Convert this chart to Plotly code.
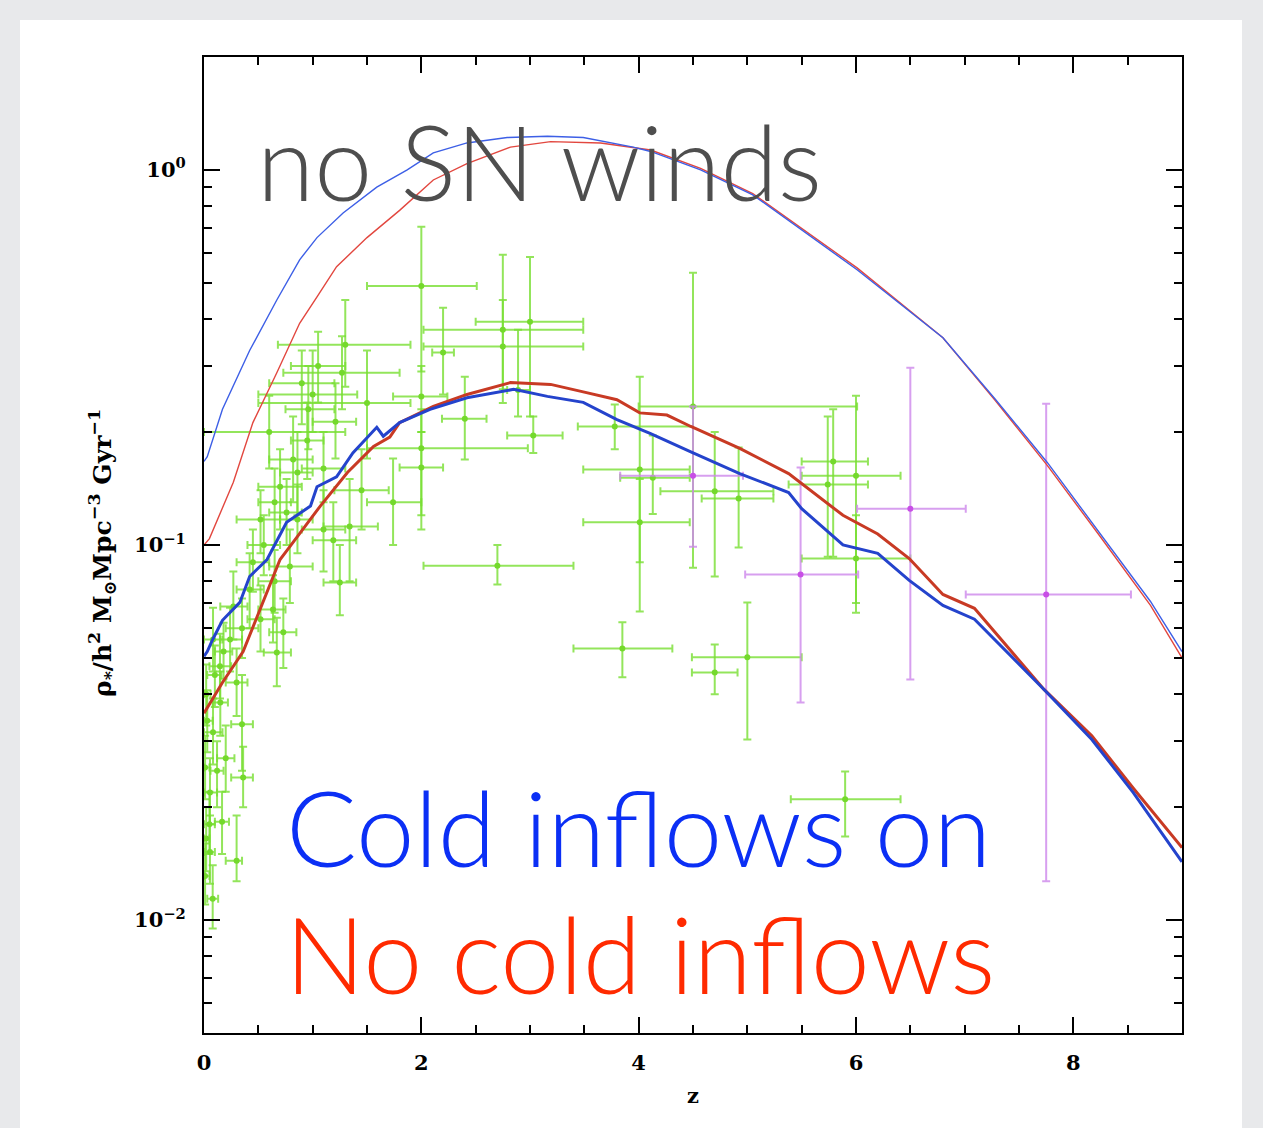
import plotly.graph_objects as go

# ---------------- model curves ----------------
blue_thin_z = [0, 0.03, 0.17, 0.42, 0.67, 0.88, 1.04, 1.28, 1.59, 1.87, 2.11, 2.42, 2.79, 3.16, 3.49, 3.95, 4.11, 4.57, 5.05, 6.01, 6.8, 7.28, 7.76, 8.23, 8.71, 9.0]
blue_thin_v = [0.167, 0.172, 0.23, 0.33, 0.45, 0.576, 0.66, 0.768, 0.90, 1.0, 1.11, 1.18, 1.22, 1.23, 1.22, 1.15, 1.12, 1.0, 0.858, 0.542, 0.357, 0.245, 0.166, 0.109, 0.0707, 0.052]

red_thin_z = [0, 0.05, 0.27, 0.45, 0.67, 0.88, 1.04, 1.22, 1.5, 1.8, 2.11, 2.42, 2.82, 3.19, 3.65, 4.11, 4.57, 5.05, 6.01, 6.8, 7.28, 7.76, 8.23, 8.71, 9.0]
red_thin_v = [0.1, 0.104, 0.147, 0.212, 0.288, 0.39, 0.459, 0.552, 0.66, 0.78, 0.94, 1.04, 1.15, 1.19, 1.18, 1.13, 1.01, 0.865, 0.548, 0.357, 0.243, 0.163, 0.107, 0.069, 0.050]

blue_thick_z = [0, 0.03, 0.08, 0.17, 0.33, 0.42, 0.58, 0.76, 0.98, 1.04, 1.22, 1.37, 1.59, 1.65, 1.8, 2.08, 2.42, 2.85, 3.16, 3.49, 3.8, 4.11, 4.48, 4.93, 5.38, 5.5, 5.88, 6.2, 6.49, 6.8, 7.09, 7.73, 8.17, 8.55, 9.0]
blue_thick_v = [0.0505, 0.052, 0.056, 0.063, 0.0703, 0.0824, 0.0915, 0.115, 0.127, 0.143, 0.152, 0.176, 0.206, 0.195, 0.212, 0.23, 0.247, 0.26, 0.249, 0.24, 0.216, 0.198, 0.177, 0.155, 0.138, 0.125, 0.1, 0.095, 0.0805, 0.069, 0.0634, 0.0412, 0.0303, 0.0219, 0.0143]

red_thick_z = [0, 0.17, 0.36, 0.49, 0.7, 0.79, 1.07, 1.32, 1.56, 1.71, 1.8, 2.11, 2.42, 2.82, 3.19, 3.49, 3.8, 4.01, 4.26, 4.48, 4.93, 5.38, 5.88, 6.2, 6.49, 6.8, 7.09, 7.73, 8.17, 8.55, 9.0]
red_thick_v = [0.0356, 0.043, 0.052, 0.0644, 0.0915, 0.099, 0.127, 0.156, 0.183, 0.194, 0.212, 0.234, 0.252, 0.271, 0.268, 0.256, 0.244, 0.225, 0.222, 0.207, 0.181, 0.155, 0.12, 0.107, 0.092, 0.0738, 0.0678, 0.0412, 0.031, 0.0225, 0.0156]

# ---------------- observational points (green) ----------------
green_z   = [2.0, 2.75, 2.75, 3.0, 2.2, 2.4, 3.03, 2.0, 2.0, 2.7, 3.78, 4.01, 4.01, 4.13, 4.5, 4.7, 4.92, 3.85, 4.7, 5.0, 5.79, 5.74, 6.0, 6.0, 5.9, 2.0, 2.89,
             1.3, 1.27, 1.5, 1.0, 0.96, 1.21, 0.82, 0.86, 0.7, 0.65, 0.76, 0.52, 0.86, 1.1, 1.34, 1.19, 1.74, 1.25, 0.79, 0.42, 0.27, 0.635, 0.52, 0.73,
             0.24, 0.083, 0.147, 0.3, 0.67, 0.35, 0.083, 0.01, 0.36, 0.055, 0.166, 0.3, 0.01, 0.055, 0.08, 0.6, 0.02, 0.03, 0.1, 0.15, 0.2, 0.12, 0.05,
             0.02, 0.45, 0.55, 0.9, 1.05, 0.95, 1.1, 0.35, 0.18, 0.65, 1.45]
green_v   = [0.49, 0.375, 0.338, 0.394, 0.326, 0.217, 0.196, 0.181, 0.161, 0.088, 0.207, 0.159, 0.115, 0.151, 0.234, 0.139, 0.133, 0.053, 0.0457, 0.0502, 0.167, 0.145, 0.153, 0.092, 0.021, 0.249, 0.259,
             0.342, 0.288, 0.239, 0.252, 0.23, 0.213, 0.169, 0.156, 0.143, 0.13, 0.122, 0.117, 0.117, 0.11, 0.112, 0.103, 0.13, 0.0794, 0.0877, 0.0761, 0.0686, 0.0673, 0.0634, 0.0585,
             0.056, 0.056, 0.0475, 0.043, 0.0517, 0.0333, 0.0317, 0.0255, 0.024, 0.0219, 0.0183, 0.0144, 0.0131, 0.0152, 0.0114, 0.2, 0.04, 0.034, 0.045, 0.038, 0.027, 0.025, 0.018,
             0.0165, 0.09, 0.1, 0.27, 0.3, 0.19, 0.16, 0.06, 0.052, 0.08, 0.14]
green_zlo = [1.5, 2.02, 2.02, 2.5, 2.1, 2.19, 2.79, 1.5, 1.8, 2.02, 3.44, 3.49, 3.49, 3.83, 4.0, 4.2, 4.58, 3.4, 4.49, 4.49, 5.5, 5.38, 5.5, 5.5, 5.4, 1.74, 2.79,
             0.68, 0.73, 0.5, 0.5, 0.75, 1.0, 0.6, 0.7, 0.5, 0.5, 0.6, 0.3, 0.7, 0.9, 1.1, 1.0, 1.5, 1.1, 0.6, 0.3, 0.15, 0.5, 0.4, 0.6,
             0.15, 0.0, 0.05, 0.2, 0.55, 0.25, 0.0, 0.0, 0.25, 0.0, 0.1, 0.2, 0.0, 0.0, 0.03, 0.0, 0.0, 0.0, 0.03, 0.08, 0.12, 0.06, 0.0,
             0.0, 0.3, 0.4, 0.6, 0.8, 0.8, 0.9, 0.2, 0.1, 0.5, 1.2]
green_zhi = [2.51, 3.49, 3.49, 3.49, 2.3, 2.6, 3.3, 2.98, 2.2, 3.4, 4.5, 4.47, 4.47, 4.47, 6.01, 5.24, 5.24, 4.31, 4.91, 5.5, 6.11, 6.11, 6.41, 6.5, 6.41, 2.24, 3.0,
             1.9, 1.8, 1.9, 1.41, 1.2, 1.4, 1.0, 1.0, 0.9, 0.8, 0.9, 0.7, 1.0, 1.3, 1.6, 1.4, 2.0, 1.4, 1.0, 0.55, 0.4, 0.75, 0.65, 0.85,
             0.35, 0.17, 0.25, 0.4, 0.8, 0.45, 0.17, 0.05, 0.45, 0.12, 0.23, 0.35, 0.05, 0.1, 0.13, 1.3, 0.06, 0.08, 0.16, 0.22, 0.28, 0.18, 0.1,
             0.05, 0.6, 0.7, 1.2, 1.3, 1.1, 1.3, 0.5, 0.26, 0.8, 1.7]
green_vlo = [0.29, 0.239, 0.26, 0.22, 0.252, 0.169, 0.176, 0.12, 0.11, 0.0785, 0.18, 0.09, 0.0665, 0.121, 0.087, 0.0824, 0.0985, 0.0444, 0.04, 0.0303, 0.093, 0.093, 0.066, 0.07, 0.0167, 0.2, 0.22,
             0.264, 0.23, 0.17, 0.2, 0.18, 0.17, 0.13, 0.12, 0.11, 0.1, 0.1, 0.095, 0.095, 0.085, 0.08, 0.08, 0.1, 0.065, 0.07, 0.06, 0.056, 0.055, 0.052, 0.047,
             0.046, 0.046, 0.039, 0.035, 0.042, 0.025, 0.026, 0.021, 0.02, 0.018, 0.015, 0.0127, 0.011, 0.0125, 0.0095, 0.16, 0.033, 0.028, 0.037, 0.031, 0.022, 0.02, 0.015,
             0.0135, 0.075, 0.083, 0.21, 0.24, 0.15, 0.13, 0.05, 0.044, 0.066, 0.11]
green_vhi = [0.705, 0.594, 0.45, 0.586, 0.429, 0.281, 0.22, 0.23, 0.2, 0.1, 0.237, 0.281, 0.15, 0.196, 0.532, 0.2, 0.182, 0.0622, 0.0543, 0.0703, 0.23, 0.22, 0.25, 0.12, 0.0249, 0.3, 0.375,
             0.45, 0.36, 0.33, 0.33, 0.3, 0.27, 0.22, 0.2, 0.18, 0.16, 0.15, 0.14, 0.145, 0.14, 0.15, 0.13, 0.17, 0.1, 0.11, 0.095, 0.085, 0.083, 0.078, 0.072,
             0.068, 0.068, 0.058, 0.053, 0.064, 0.045, 0.039, 0.031, 0.029, 0.027, 0.022, 0.019, 0.016, 0.019, 0.014, 0.25, 0.048, 0.041, 0.054, 0.046, 0.033, 0.03, 0.022,
             0.02, 0.11, 0.12, 0.33, 0.37, 0.24, 0.2, 0.072, 0.062, 0.097, 0.18]

# ---------------- observational points (purple) ----------------
purple_z   = [4.5, 5.49, 6.5, 7.75]
purple_v   = [0.153, 0.0834, 0.125, 0.0738]
purple_zlo = [3.83, 4.98, 6.01, 7.01]
purple_zhi = [4.96, 6.02, 7.01, 8.53]
purple_vlo = [0.099, 0.038, 0.0438, 0.0127]
purple_vhi = [0.234, 0.161, 0.297, 0.238]

y_tick_vals = [0.01, 0.1, 1]
y_tick_text = ["10<sup>\u22122</sup>", "10<sup>\u22121</sup>", "10<sup>0</sup>"]
x_tick_vals = [0, 2, 4, 6, 8]

# ---------------- layout geometry (pixels) ----------------
W, H = 1263, 1128
L, R, T, B = 204, 1182, 57, 1033
PW, PH = R - L, B - T


def px(x):
    return (x - L) / PW


def py(y):
    return (B - y) / PH


def errs(v, lo, hi):
    return [h - a for a, h in zip(v, hi)], [a - l for a, l in zip(v, lo)]


fig = go.Figure()

gzp, gzm = errs(green_z, green_zlo, green_zhi)
gvp, gvm = errs(green_v, green_vlo, green_vhi)
fig.add_trace(go.Scatter(
    x=green_z, y=green_v, mode="markers",
    marker=dict(color="#74d92c", size=6),
    error_x=dict(type="data", symmetric=False, array=gzp, arrayminus=gzm,
                 color="rgba(120,222,50,0.8)", thickness=2, width=4),
    error_y=dict(type="data", symmetric=False, array=gvp, arrayminus=gvm,
                 color="rgba(120,222,50,0.8)", thickness=2, width=4),
    showlegend=False))

pzp, pzm = errs(purple_z, purple_zlo, purple_zhi)
pvp, pvm = errs(purple_v, purple_vlo, purple_vhi)
fig.add_trace(go.Scatter(
    x=purple_z, y=purple_v, mode="markers",
    marker=dict(color="#c84fe6", size=6),
    error_x=dict(type="data", symmetric=False, array=pzp, arrayminus=pzm,
                 color="rgba(205,135,235,0.8)", thickness=2, width=4),
    error_y=dict(type="data", symmetric=False, array=pvp, arrayminus=pvm,
                 color="rgba(205,135,235,0.8)", thickness=2, width=4),
    showlegend=False))

fig.add_trace(go.Scatter(x=red_thin_z, y=red_thin_v, mode="lines",
                         line=dict(color="#e2473f", width=1.4), showlegend=False))
fig.add_trace(go.Scatter(x=blue_thin_z, y=blue_thin_v, mode="lines",
                         line=dict(color="#3d5fe6", width=1.4), showlegend=False))
fig.add_trace(go.Scatter(x=red_thick_z, y=red_thick_v, mode="lines",
                         line=dict(color="#c83a24", width=3), showlegend=False))
fig.add_trace(go.Scatter(x=blue_thick_z, y=blue_thick_v, mode="lines",
                         line=dict(color="#2443cc", width=3), showlegend=False))

minor_y = [m * 10 ** e for e in (-3, -2, -1, 0) for m in range(2, 10)]
minor_y = [v for v in minor_y if 0.005 <= v <= 2]

tickfont = dict(family="DejaVu Serif", size=21, color="black", weight="bold")

fig.update_layout(
    width=W, height=H,
    margin=dict(l=L, r=W - R, t=T, b=H - B, pad=0),
    paper_bgcolor="#e8e9eb",
    plot_bgcolor="white",
    xaxis=dict(range=[0, 9], tickvals=x_tick_vals, ticks="inside", ticklen=16,
               tickwidth=1.5, tickcolor="black", showline=True, linecolor="black",
               linewidth=2, mirror="allticks", showgrid=False, zeroline=False,
               tickfont=tickfont, ticklabelstandoff=10,
               minor=dict(dtick=0.5, ticks="inside", ticklen=8, tickwidth=1.5,
                          tickcolor="black", showgrid=False)),
    yaxis=dict(type="log", range=[-2.30103, 0.30103], tickvals=y_tick_vals,
               ticktext=y_tick_text, ticks="inside", ticklen=16, tickwidth=1.5,
               tickcolor="black", showline=True, linecolor="black", linewidth=2,
               mirror="allticks", showgrid=False, zeroline=False,
               tickfont=tickfont, ticklabelstandoff=12,
               minor=dict(tickvals=minor_y, ticks="inside", ticklen=8, tickwidth=1.5,
                          tickcolor="black", showgrid=False)),
    shapes=[dict(type="rect", xref="paper", yref="paper", layer="below",
                 x0=px(20), x1=px(1242), y0=py(1140), y1=py(20),
                 fillcolor="white", line=dict(width=0))],
    annotations=[
        dict(text="z", xref="paper", yref="paper", x=px(693), y=py(1095),
             xanchor="center", yanchor="middle", showarrow=False,
             font=dict(family="DejaVu Serif", size=21, color="black", weight="bold")),
        dict(text="\u03c1<sub>*</sub>/h<sup>2</sup> M<sub>\u2299</sub>Mpc<sup>\u22123</sup> Gyr<sup>\u22121</sup>",
             xref="paper", yref="paper", x=px(102), y=py(553), textangle=-90,
             xanchor="center", yanchor="middle", showarrow=False,
             font=dict(family="DejaVu Serif", size=25, color="black", weight="bold")),
        dict(text="no SN winds", xref="paper", yref="paper", x=px(255), y=py(160),
             xanchor="left", yanchor="middle", showarrow=False,
             font=dict(family="Lato", size=104, color="#4e4e4e", weight=300)),
        dict(text="Cold inflows on", xref="paper", yref="paper", x=px(284), y=py(826),
             xanchor="left", yanchor="middle", showarrow=False,
             font=dict(family="Lato", size=105, color="#0b2ff5", weight=300)),
        dict(text="No cold inflows", xref="paper", yref="paper", x=px(283), y=py(953),
             xanchor="left", yanchor="middle", showarrow=False,
             font=dict(family="Lato", size=106, color="#ff2a00", weight=300)),
    ],
)

fig.write_html("out.html")
